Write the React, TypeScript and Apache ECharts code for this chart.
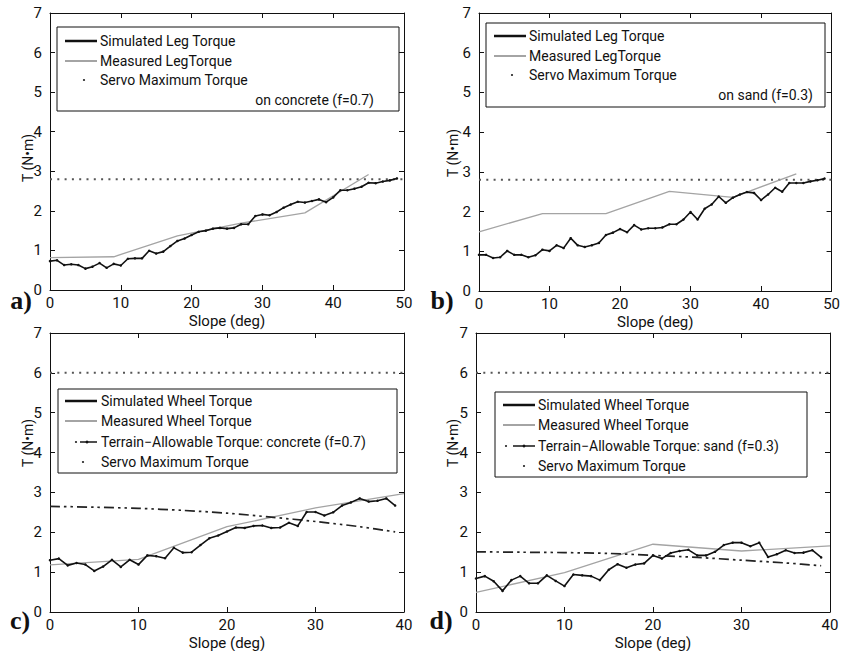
import React, { useEffect, useRef } from "react";
import * as echarts from "echarts";

// ---- data ----
const SIM_LEG_CONCRETE = [0.73, 0.75, 0.63, 0.65, 0.63, 0.54, 0.59, 0.68, 0.56, 0.66, 0.62, 0.79, 0.8, 0.8, 0.99, 0.92, 0.97, 1.11, 1.24, 1.3, 1.39, 1.47, 1.5, 1.55, 1.57, 1.55, 1.57, 1.66, 1.66, 1.87, 1.91, 1.89, 1.97, 2.08, 2.16, 2.23, 2.21, 2.25, 2.29, 2.22, 2.34, 2.52, 2.52, 2.56, 2.61, 2.71, 2.7, 2.74, 2.77, 2.82];
const MEAS_LEG_SLOPES = [0, 9, 18, 27, 36, 45];
const MEAS_LEG_CONCRETE = [0.82, 0.84, 1.37, 1.69, 1.95, 2.92];

const SIM_LEG_SAND = [0.91, 0.91, 0.83, 0.85, 1.01, 0.91, 0.91, 0.85, 0.9, 1.04, 1.01, 1.15, 1.08, 1.33, 1.15, 1.11, 1.15, 1.21, 1.41, 1.47, 1.56, 1.48, 1.66, 1.55, 1.58, 1.58, 1.6, 1.68, 1.68, 1.8, 1.99, 1.8, 2.07, 2.18, 2.38, 2.22, 2.35, 2.43, 2.49, 2.47, 2.29, 2.43, 2.6, 2.5, 2.72, 2.72, 2.72, 2.76, 2.79, 2.83];
const MEAS_LEG_SAND = [1.49, 1.95, 1.95, 2.51, 2.36, 2.95];

const SIM_WHEEL_CONCRETE = [1.3, 1.34, 1.17, 1.23, 1.19, 1.03, 1.14, 1.31, 1.13, 1.31, 1.19, 1.42, 1.4, 1.35, 1.61, 1.49, 1.5, 1.68, 1.85, 1.92, 2.02, 2.12, 2.11, 2.16, 2.17, 2.11, 2.12, 2.24, 2.16, 2.51, 2.51, 2.42, 2.5, 2.67, 2.75, 2.85, 2.77, 2.79, 2.85, 2.67];
const MEAS_WHEEL_SLOPES = [0, 10, 20, 30, 40];
const MEAS_WHEEL_CONCRETE = [1.18, 1.32, 2.14, 2.61, 2.97];
const TERRAIN_SLOPES = [0, 5, 10, 15, 20, 25, 30, 35, 39];
const TERRAIN_CONCRETE = [2.65, 2.63, 2.6, 2.55, 2.48, 2.38, 2.27, 2.14, 2.01];

const SIM_WHEEL_SAND = [0.84, 0.9, 0.77, 0.53, 0.8, 0.9, 0.72, 0.72, 0.92, 0.78, 0.65, 0.94, 0.92, 0.9, 0.8, 1.06, 1.2, 1.11, 1.19, 1.22, 1.42, 1.34, 1.48, 1.53, 1.56, 1.42, 1.42, 1.51, 1.68, 1.74, 1.74, 1.65, 1.74, 1.38, 1.45, 1.55, 1.48, 1.49, 1.55, 1.37];
const MEAS_WHEEL_SAND = [0.49, 0.99, 1.7, 1.53, 1.66];
const TERRAIN_SAND = [1.51, 1.5, 1.49, 1.47, 1.42, 1.37, 1.3, 1.23, 1.16];

const SERVO_LEG = 2.8;
const SERVO_WHEEL = 6;

const Y_TICKS = [0, 7, 1]; // min, max, interval
const PANEL_LABELS = ["a)", "b)", "c)", "d)"];
const FONT = "Roboto, 'Noto Sans', sans-serif";

const pairs = (xs: number[], ys: number[]) => ys.map((y, i) => [xs[i], y]);
const indexed = (ys: number[]) => ys.map((y, i) => [i, y]);

export default function App() {
  const ref = useRef<HTMLDivElement>(null);

  useEffect(() => {
    if (!ref.current) return;
    const chart = echarts.init(ref.current, undefined, { renderer: "svg" });

    const grids = [
      { left: 50, top: 13, width: 354, height: 277, xmax: 50 },
      { left: 479, top: 13, width: 354, height: 278, xmax: 50 },
      { left: 50, top: 333, width: 354, height: 280, xmax: 40 },
      { left: 476, top: 333, width: 354, height: 279, xmax: 40 },
    ];

    const xAxes: any[] = [];
    const yAxes: any[] = [];
    grids.forEach((g, k) => {
      const base = {
        gridIndex: k,
        type: "value",
        axisLine: { show: true, onZero: false, lineStyle: { color: "#111", width: 1 } },
        axisTick: { show: true, inside: true, length: 5, lineStyle: { color: "#111" } },
        splitLine: { show: false },
      };
      xAxes.push({
        ...base,
        position: "bottom",
        min: 0,
        max: g.xmax,
        interval: 10,
        axisLabel: { fontFamily: FONT, fontSize: 15, color: "#111", margin: 5 },
        name: "Slope (deg)",
        nameLocation: "middle",
        nameGap: 23,
        nameTextStyle: { fontFamily: FONT, fontSize: 15, color: "#111" },
      });
      xAxes.push({
        ...base,
        position: "top",
        min: 0,
        max: g.xmax,
        interval: 10,
        axisLabel: { show: false },
      });
      yAxes.push({
        ...base,
        position: "left",
        min: Y_TICKS[0],
        max: Y_TICKS[1],
        interval: Y_TICKS[2],
        axisLabel: { fontFamily: FONT, fontSize: 15, color: "#111", margin: 8 },
      });
      yAxes.push({
        ...base,
        position: "right",
        min: Y_TICKS[0],
        max: Y_TICKS[1],
        interval: Y_TICKS[2],
        axisLabel: { show: false },
      });
    });

    const simStyle = (name: string, k: number, data: number[][]) => ({
      name,
      type: "line",
      xAxisIndex: k * 2,
      yAxisIndex: k * 2,
      data,
      symbol: "circle",
      symbolSize: 2.5,
      showSymbol: true,
      itemStyle: { color: "#111" },
      lineStyle: { color: "#111", width: 1.6 },
      z: 4,
    });
    const measStyle = (name: string, k: number, data: number[][]) => ({
      name,
      type: "line",
      xAxisIndex: k * 2,
      yAxisIndex: k * 2,
      data,
      symbol: "none",
      lineStyle: { color: "#a4a4a4", width: 1.3 },
      z: 3,
    });
    const servoStyle = (k: number, v: number, xmax: number) => ({
      name: "Servo Maximum Torque",
      type: "line",
      xAxisIndex: k * 2,
      yAxisIndex: k * 2,
      data: [[0, v], [xmax, v]],
      symbol: "none",
      lineStyle: { color: "#555", width: 2, type: [2, 5.3] },
      z: 2,
    });
    const terrainStyle = (name: string, k: number, data: number[][]) => ({
      name,
      type: "line",
      xAxisIndex: k * 2,
      yAxisIndex: k * 2,
      data,
      symbol: "none",
      smooth: 0.3,
      lineStyle: { color: "#222", width: 1.7, type: [10, 4, 2.5, 4, 2.5, 4] },
      z: 3,
    });

    const series = [
      simStyle("Simulated Leg Torque", 0, indexed(SIM_LEG_CONCRETE)),
      measStyle("Measured LegTorque", 0, pairs(MEAS_LEG_SLOPES, MEAS_LEG_CONCRETE)),
      servoStyle(0, SERVO_LEG, 50),
      simStyle("Simulated Leg Torque", 1, indexed(SIM_LEG_SAND)),
      measStyle("Measured LegTorque", 1, pairs(MEAS_LEG_SLOPES, MEAS_LEG_SAND)),
      servoStyle(1, SERVO_LEG, 50),
      simStyle("Simulated Wheel Torque", 2, indexed(SIM_WHEEL_CONCRETE)),
      measStyle("Measured Wheel Torque", 2, pairs(MEAS_WHEEL_SLOPES, MEAS_WHEEL_CONCRETE)),
      terrainStyle("Terrain−Allowable Torque: concrete (f=0.7)", 2, pairs(TERRAIN_SLOPES, TERRAIN_CONCRETE)),
      servoStyle(2, SERVO_WHEEL, 40),
      simStyle("Simulated Wheel Torque", 3, indexed(SIM_WHEEL_SAND)),
      measStyle("Measured Wheel Torque", 3, pairs(MEAS_WHEEL_SLOPES, MEAS_WHEEL_SAND)),
      terrainStyle("Terrain−Allowable Torque: sand (f=0.3)", 3, pairs(TERRAIN_SLOPES, TERRAIN_SAND)),
      servoStyle(3, SERVO_WHEEL, 40),
    ];

    // ---- legends drawn as graphics ----
    const txt = (x: number, y: number, text: string, align = "left") => ({
      type: "text",
      x,
      y,
      style: { text, fontFamily: FONT, fontSize: 14, fill: "#111", align, verticalAlign: "middle" },
    });
    const seg = (x1: number, x2: number, y: number, stroke: string, lineWidth: number, lineDash?: number[]) => ({
      type: "line",
      shape: { x1, y1: y, x2, y2: y },
      style: { stroke, lineWidth, lineDash },
    });
    const dot = (x: number, y: number, r = 1.1, fill = "#333") => ({
      type: "circle",
      shape: { cx: x, cy: y, r },
      style: { fill },
    });
    const box = (x1: number, y1: number, x2: number, y2: number) => ({
      type: "rect",
      shape: { x: x1, y: y1, width: x2 - x1, height: y2 - y1 },
      style: { fill: "#fff", stroke: "#111", lineWidth: 1 },
    });

    const legA = [
      box(57, 27, 399, 111),
      seg(65, 97, 41, "#111", 2.5), txt(100, 41, "Simulated Leg Torque"),
      seg(65, 97, 61, "#a4a4a4", 2), txt(100, 61, "Measured LegTorque"),
      dot(84, 80), txt(100, 80, "Servo Maximum Torque"),
      txt(374, 100, "on concrete (f=0.7)", "right"),
    ];
    const legB = [
      box(486, 23, 825, 107),
      seg(494, 526, 36, "#111", 2.5), txt(529, 36, "Simulated Leg Torque"),
      seg(494, 526, 56, "#a4a4a4", 2), txt(529, 56, "Measured LegTorque"),
      dot(512, 75), txt(529, 75, "Servo Maximum Torque"),
      txt(813, 95, "on sand (f=0.3)", "right"),
    ];
    const legC = [
      box(58, 389, 397, 473),
      seg(65, 97, 401, "#111", 2.5), txt(101, 401, "Simulated Wheel Torque"),
      seg(65, 97, 421, "#a4a4a4", 2), txt(101, 421, "Measured Wheel Torque"),
      dot(76, 442), seg(80, 97, 442, "#222", 1.6), dot(87, 442, 1.4, "#111"),
      txt(101, 442, "Terrain−Allowable Torque: concrete (f=0.7)"),
      dot(83, 462), txt(101, 462, "Servo Maximum Torque"),
    ];
    const legD = [
      box(495, 392, 807, 477),
      seg(503, 535, 405, "#111", 2.5), txt(538, 405, "Simulated Wheel Torque"),
      seg(503, 535, 425, "#a4a4a4", 2), txt(538, 425, "Measured Wheel Torque"),
      dot(506, 446), seg(513, 535, 446, "#222", 1.6), dot(524, 446, 1.4, "#111"),
      txt(538, 446, "Terrain−Allowable Torque: sand (f=0.3)"),
      dot(524, 466), txt(538, 466, "Servo Maximum Torque"),
    ];

    const yNames = [
      [28, 158], [453, 153], [28, 443], [453, 443],
    ].map(([x, y]) => ({
      type: "text",
      x,
      y,
      rotation: Math.PI / 2,
      style: { text: "T (N•m)", fontFamily: FONT, fontSize: 14, fill: "#111", align: "center", verticalAlign: "middle" },
    }));

    const letters = [
      [21, 300], [442, 300], [20, 620], [441, 620],
    ].map(([x, y], i) => ({
      type: "text",
      x,
      y,
      style: {
        text: PANEL_LABELS[i],
        fontFamily: "'Liberation Serif', 'DejaVu Serif', serif",
        fontSize: 26,
        fontWeight: "bold",
        fill: "#111",
        align: "center",
        verticalAlign: "middle",
      },
    }));

    chart.setOption({
      animation: false,
      backgroundColor: "#fff",
      grid: grids.map((g) => ({ left: g.left, top: g.top, width: g.width, height: g.height, containLabel: false })),
      xAxis: xAxes,
      yAxis: yAxes,
      series,
      graphic: [...legA, ...legB, ...legC, ...legD, ...yNames, ...letters].map((e) => ({ ...e, z: 100 })),
    });

    return () => chart.dispose();
  }, []);

  return <div ref={ref} style={{ position: "absolute", left: 0, top: 0, width: 843, height: 651 }} />;
}
